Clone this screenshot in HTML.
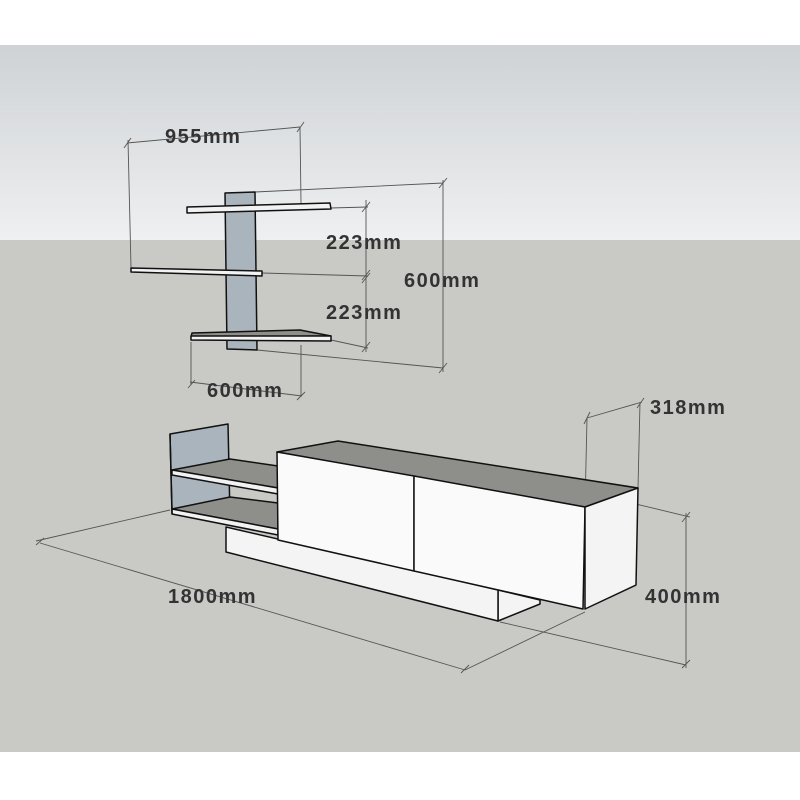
<!DOCTYPE html><html><head><style>body{margin:0}svg{display:block}</style></head><body>
<svg width="800" height="800" viewBox="0 0 800 800" xmlns="http://www.w3.org/2000/svg" font-family="Liberation Sans, sans-serif">
<defs><linearGradient id="sky" x1="0" y1="0" x2="0" y2="1"><stop offset="0" stop-color="#cfd2d5"/><stop offset="1" stop-color="#eef0f1"/></linearGradient></defs>
<rect width="800" height="800" fill="#fff"/>
<rect y="45" width="800" height="196" fill="url(#sky)"/>
<rect y="240" width="800" height="512" fill="#c9c9c5"/>
<g stroke="#555" stroke-width="0.9" fill="none">
<path d="M127,143 L300,127 M124,148 L131,138 M297,132 L304,122 M128,140 L131,268 M300,127 L301,203"/>
<path d="M255,192 L443,183 M257,350 L443,368 M443,180 L443,372 M439,188 L447,178 M439,373 L447,363"/>
<path d="M330,208 L368,207 M262,273 L368,276 M331,340 L368,348 M366,200 L366,352 M362,212 L370,202 M362,280 L370,270 M362,283 L370,273 M362,352 L370,342"/>
<path d="M191,342 L191,385 M301,345 L301,396 M188,388 L195,380 M297,400 L305,392 M190,382 L302,396"/>
<path d="M36,541 L170,510 M40,543 L465,670 M465,670 L585,612 M461,673 L469,665 M36,545 L44,538"/>
<path d="M636,504 L690,517 M500,622 L686,665 M686,513 L686,668 M682,522 L690,512 M682,668 L690,660"/>
<path d="M587,418 L642,402 M587,418 L585,507 M640,402 L638,488 M584,424 L590,412 M637,408 L644,398"/>
</g>
<g stroke="#111" stroke-width="1.5" stroke-linejoin="round">
<polygon points="225,193 255,192 257,350 227,349" fill="#a9b4bd"/>
<polygon points="187,207 330,203 331,209 187,213" fill="#f2f2f2"/>
<polygon points="131,268 262,271 262,276 131,272" fill="#f2f2f2"/>
<polygon points="192,333 300,330 331,336 191,337" fill="#8e8e8b"/>
<polygon points="191,336 331,336 331,341 191,340" fill="#f2f2f2"/>
<polygon points="170,434 228,424 230,516 172,510" fill="#a9b4bd"/>
<polygon points="172,470 230,459 278,466 278,488" fill="#8e8e8b"/>
<polygon points="172,470 278,488 278,494 172,475" fill="#f2f2f2"/>
<polygon points="172,509 230,497 278,503 278,529" fill="#8e8e8b"/>
<polygon points="172,509 278,529 278,535 172,514" fill="#f2f2f2"/>
<line x1="170" y1="434" x2="172" y2="514" />
<polygon points="498,590 540,600 540,604 498,621" fill="#f4f4f4"/>
<polygon points="226,527 498,590 498,621 226,552" fill="#f4f4f4"/>
<polygon points="277,452 338,441 638,488 585,507" fill="#8e8e8b"/>
<polygon points="277,452 414,476 414,571 278,540" fill="#fafafa"/>
<polygon points="414,476 585,507 583,609 414,571" fill="#fafafa"/>
<polygon points="585,507 638,488 636,585 585,609" fill="#f4f4f4"/>
</g>
<g font-weight="bold" font-size="20" fill="#333" letter-spacing="1.5">
<text x="165" y="143">955mm</text>
<text x="326" y="249">223mm</text>
<text x="404" y="287">600mm</text>
<text x="326" y="319">223mm</text>
<text x="207" y="397">600mm</text>
<text x="650" y="414">318mm</text>
<text x="168" y="603">1800mm</text>
<text x="645" y="603">400mm</text>
</g>
</svg></body></html>
